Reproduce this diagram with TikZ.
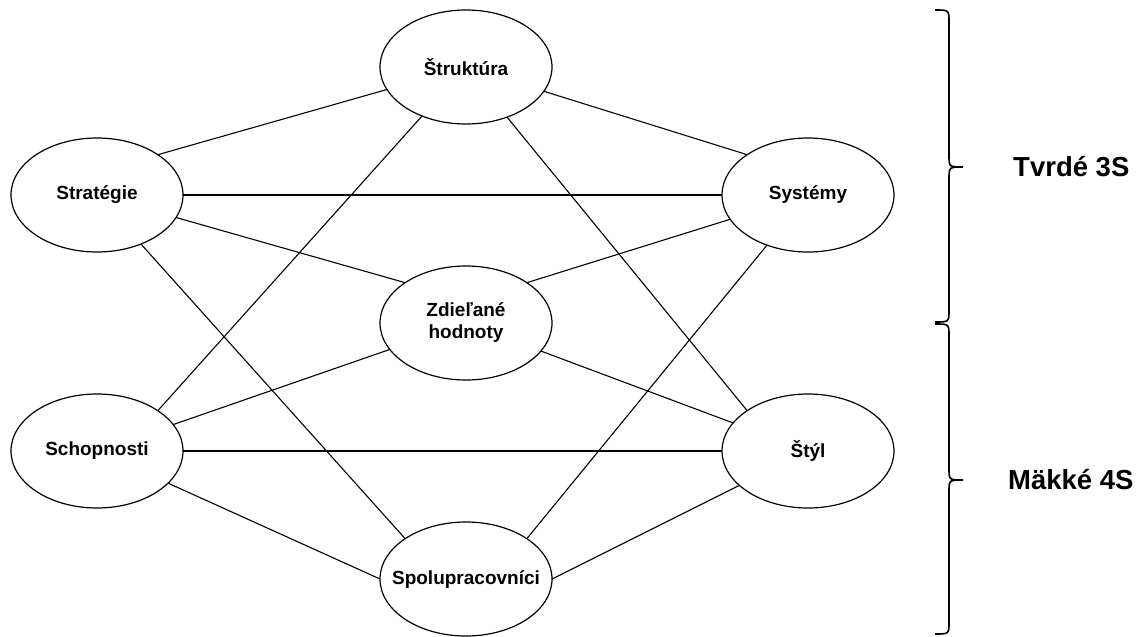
\documentclass[tikz,border=0pt]{standalone}
\usepackage{fontspec}
\setmainfont{Liberation Sans}
\usetikzlibrary{shapes.geometric}
\begin{document}
\begin{tikzpicture}[x=1pt,y=-1pt,
  sval/.style={ellipse, draw, line width=1.2pt, minimum width=172pt, minimum height=114pt,
    inner sep=0pt, outer sep=0pt, font=\bfseries\fontsize{19}{22}\selectfont},
  link/.style={line width=1.1pt},
  bracepath/.style={line width=1.6pt},
  group/.style={anchor=west, inner sep=0pt, font=\bfseries\fontsize{27.5}{32}\selectfont}]
\useasboundingbox (0,0) rectangle (1143,637);

% the seven elements
\node[sval] (strat) at (97,195)  {\makebox[0pt]{Stratégie}};
\node[sval] (schop) at (97,451)  {\makebox[0pt]{Schopnosti}};
\node[sval] (struk) at (466,67)  {\makebox[0pt]{Štruktúra}};
\node[sval] (zd)    at (466,323) {\makebox[0pt]{\begin{tabular}{@{}c@{}}Zdieľané\\hodnoty\end{tabular}}};
\node[sval] (spolu) at (466,579) {\makebox[0pt]{Spolupracovníci}};
\node[sval] (sys)   at (808,195) {\makebox[0pt]{Systémy}};
\node[sval] (styl)  at (808,451) {\makebox[0pt]{Štýl}};

% connections between the elements
\draw[link] (strat.north east) -- (struk);
\draw[link] (strat) -- (sys);
\draw[link] (zd.north west) -- (strat);
\draw[link] (spolu.north west) -- (strat);
\draw[link] (sys.north west) -- (struk);
\draw[link] (schop.north east) -- (struk);
\draw[link] (styl.north west) -- (struk);
\draw[link] (zd.north east) -- (sys);
\draw[link] (spolu.north east) -- (sys);
\draw[link] (schop) -- (zd);
\draw[link] (zd) -- (styl);
\draw[link] (schop) -- (styl);
\draw[link] (spolu.west) -- (schop);
\draw[link] (spolu.east) -- (styl);

% grouping braces
\draw[bracepath] (935,10) .. controls (949,10) .. (949,22) -- (949,155)
  .. controls (949,167) .. (963,167) .. controls (949,167) .. (949,179)
  -- (949,310) .. controls (949,322) .. (935,322);
\draw[bracepath] (935,324) .. controls (949,324) .. (949,336) -- (949,468)
  .. controls (949,480) .. (963,480) .. controls (949,480) .. (949,492)
  -- (949,622) .. controls (949,634) .. (935,634);

\node[group] (hard) at (1013,167) {Tvrdé 3S};
\node[group] (soft) at (1008,480) {Mäkké 4S};
\end{tikzpicture}
\end{document}
